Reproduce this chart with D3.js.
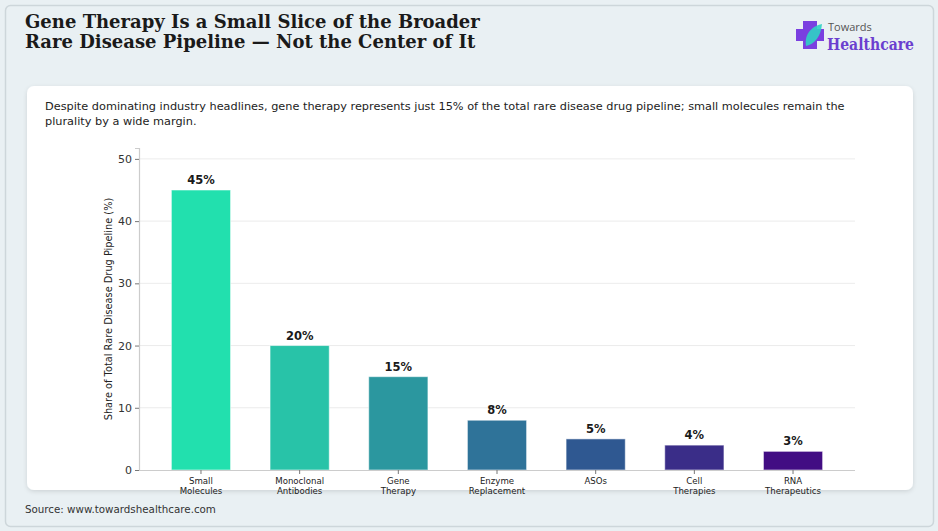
<!DOCTYPE html>
<html><head><meta charset="utf-8">
<script src="https://cdn.jsdelivr.net/npm/d3@7/dist/d3.min.js"></script>
<style>
html,body{margin:0;padding:0;background:#e9f0f3;}
svg{display:block;}
</style></head>
<body>
<svg id="c" width="938" height="531"></svg>
<script>
const categories = [["Small","Molecules"],["Monoclonal","Antibodies"],["Gene","Therapy"],["Enzyme","Replacement"],["ASOs"],["Cell","Therapies"],["RNA","Therapeutics"]];
const values = [45,20,15,8,5,4,3];
const colors = ["#22e0ae","#28c3a8","#2b979f","#2f7399","#2f5891","#3a2d88","#420d83"];
const yTicks = [0,10,20,30,40,50];
const titleLines = ["Gene Therapy Is a Small Slice of the Broader","Rare Disease Pipeline \u2014 Not the Center of It"];
const subtitleLines = ["Despite dominating industry headlines, gene therapy represents just 15% of the total rare disease drug pipeline; small molecules remain the","plurality by a wide margin."];
const yLabel = "Share of Total Rare Disease Drug Pipeline (%)";
const source = "Source: www.towardshealthcare.com";

const svg = d3.select("#c");
const defs = svg.append("defs");
const f = defs.append("filter").attr("id","sh").attr("x","-5%").attr("y","-5%").attr("width","110%").attr("height","115%");
f.append("feDropShadow").attr("dx",0).attr("dy",1.5).attr("stdDeviation",2).attr("flood-color","#000").attr("flood-opacity",0.12);

// page frame
svg.append("rect").attr("x",5.5).attr("y",5.5).attr("width",928).attr("height",521).attr("rx",5)
  .attr("fill","#e9f0f3").attr("stroke","#cdd6da").attr("stroke-width",1.5);

// title
svg.append("g").selectAll("text").data(titleLines).join("text")
  .attr("x",25).attr("y",(d,i)=>28+i*20)
  .attr("font-family","DejaVu Serif").attr("font-weight","bold").attr("font-size",18)
  .attr("fill","#1a1a1a").text(d=>d);

// logo
const lg = svg.append("g");
lg.append("path").attr("d","M803,21 h14 v8 h7 v12 h-7 v8 h-14 v-8 h-7 v-12 h7 z").attr("fill","#7a3fe0");
lg.append("path").attr("d","M822,24 C812,26 804,34 806,46 C815,44 821,36 822,24 Z").attr("fill","#2fd1c4").attr("opacity",0.9);
lg.append("text").attr("x",828).attr("y",31).attr("font-family","Open Sans").attr("font-size",11).attr("fill","#555").text("Towards");
lg.append("text").attr("x",827).attr("y",50).attr("font-family","DejaVu Serif").attr("font-weight","bold").attr("font-size",16.5)
  .attr("textLength",87).attr("lengthAdjust","spacingAndGlyphs").attr("fill","#6b3fcf").text("Healthcare");

// card
svg.append("rect").attr("x",27).attr("y",86).attr("width",886).attr("height",404).attr("rx",7)
  .attr("fill","#fff").attr("filter","url(#sh)");

// subtitle
svg.append("g").selectAll("text").data(subtitleLines).join("text")
  .attr("x",45).attr("y",(d,i)=>110+i*15)
  .attr("font-family","DejaVu Sans").attr("font-size",11.3).attr("fill","#222").text(d=>d);

// scales
const x = d3.scaleBand().domain(d3.range(values.length)).range([139,855]).paddingInner(0.4).paddingOuter(0.328);
const y = d3.scaleLinear().domain([0, d3.max(values)*1.15]).range([470,148]);

// grid
svg.append("g").selectAll("line").data(yTicks.filter(t=>t>0)).join("line")
  .attr("x1",139).attr("x2",855).attr("y1",d=>y(d)).attr("y2",d=>y(d))
  .attr("stroke","#e6e6e6").attr("stroke-width",0.8);

// bars
svg.append("g").selectAll("rect").data(values).join("rect")
  .attr("x",(d,i)=>x(i)).attr("width",x.bandwidth())
  .attr("y",d=>y(d)).attr("height",d=>y(0)-y(d))
  .attr("fill",(d,i)=>colors[i]).attr("stroke","rgba(255,255,255,0.55)").attr("stroke-width",1);

// value labels
svg.append("g").selectAll("text").data(values).join("text")
  .attr("x",(d,i)=>x(i)+x.bandwidth()/2).attr("y",d=>y(d)-6)
  .attr("text-anchor","middle").attr("font-family","DejaVu Sans").attr("font-weight","bold")
  .attr("font-size",11.5).attr("fill","#1a1a1a").text(d=>d+"%");

// y axis
const ya = svg.append("g").attr("transform","translate(139,0)")
  .call(d3.axisLeft(y).tickValues(yTicks).tickSize(4).tickPadding(3));
ya.select(".domain").attr("stroke","#cccccc").attr("stroke-width",1.2);
ya.selectAll(".tick line").attr("stroke","#777");
ya.selectAll(".tick text").attr("font-family","DejaVu Sans").attr("font-size",11).attr("fill","#333");

// x axis
const xa = svg.append("g").attr("transform","translate(0,470)")
  .call(d3.axisBottom(x).tickSize(4).tickFormat(""));
xa.select(".domain").attr("stroke","#cccccc").attr("stroke-width",1.2).attr("d","M139,0.5H855");
xa.selectAll(".tick line").attr("stroke","#777");
xa.selectAll(".tick").each(function(i){
  const t = d3.select(this).append("text").attr("fill","#222").attr("font-family","DejaVu Sans")
    .attr("font-size",8.6).attr("text-anchor","middle");
  categories[i].forEach((s,k)=>t.append("tspan").attr("x",0).attr("y",14+k*10).text(s));
});

// y label
svg.append("text").attr("transform","translate(112,309) rotate(-90)")
  .attr("text-anchor","middle").attr("font-family","DejaVu Sans").attr("font-size",9.8).attr("fill","#222").text(yLabel);

// source
svg.append("text").attr("x",25).attr("y",513).attr("font-family","DejaVu Sans").attr("font-size",10.3).attr("fill","#333").text(source);
</script>
</body></html>
